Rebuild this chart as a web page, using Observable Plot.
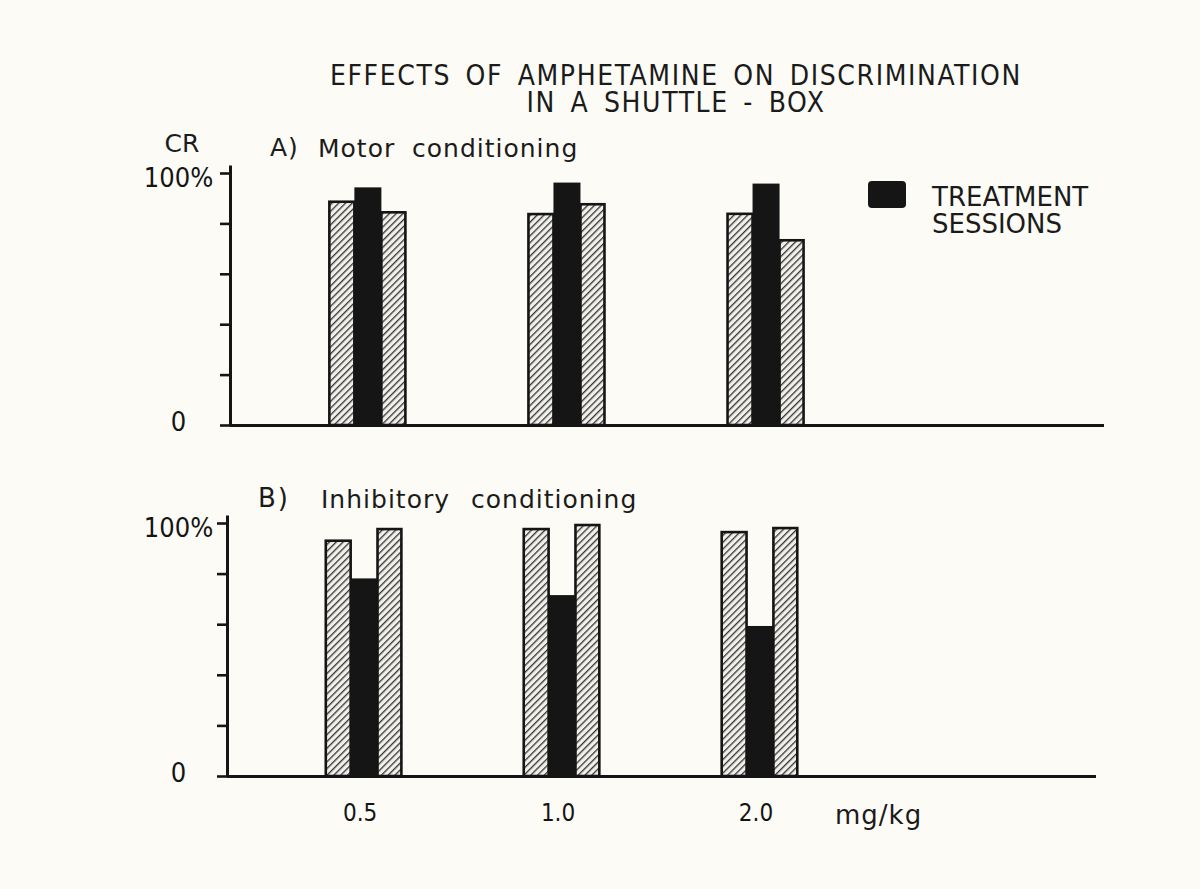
<!DOCTYPE html>
<html>
<head>
<meta charset="utf-8">
<script src="https://cdn.jsdelivr.net/npm/d3@7"></script>
<script src="https://cdn.jsdelivr.net/npm/@observablehq/plot@0.6"></script>
<style>
  html, body { margin: 0; padding: 0; background: #fcfbf6; }
  #page { position: relative; width: 1200px; height: 889px; overflow: hidden;
          font-family: "DejaVu Sans", sans-serif; color: #1b1b1b; }
  .t { position: absolute; white-space: pre; line-height: 1; transform: translateY(-50%); }
  .cond { font-family: "DejaVu Sans Condensed", "DejaVu Sans", sans-serif; font-stretch: condensed; }
  #page svg { position: absolute; left: 0; }
</style>
</head>
<body>
<div id="page"></div>
<script>
// ---- data ----
const doses = ["0.5", "1.0", "2.0"];
const motorPre       = [88.6, 83.7, 83.8];
const motorTreatment = [94.3, 96.2, 95.8];
const motorPost      = [84.4, 87.6, 73.3];
const inhibPre       = [93.0, 97.6, 96.4];
const inhibTreatment = [78.1, 71.5, 59.3];
const inhibPost      = [97.6, 99.2, 98.0];
const yTicks = [0, 20, 40, 60, 80, 100];
const yTickLabels = {0: "0", 100: "100%"};
const titleLines = ["EFFECTS OF AMPHETAMINE ON DISCRIMINATION", "IN A SHUTTLE - BOX"];
const legendLines = ["TREATMENT", "SESSIONS"];

const page = document.getElementById("page");
const ink = "#151515";
const condFont = '"DejaVu Sans Condensed", "DejaVu Sans", sans-serif';
const xDomain = [-0.69, 3.70];

function addText(txt, left, cy, size, cls = "", extra = "") {
  const d = document.createElement("div");
  d.className = "t " + cls;
  d.textContent = txt;
  d.style.cssText += `left:${left}px;top:${cy}px;font-size:${size}px;${extra}`;
  page.appendChild(d);
  return d;
}

function makePanel(cfg) {
  const rows = doses.map((dose, i) => ({dose, i, pre: cfg.pre[i], trt: cfg.trt[i], post: cfg.post[i]}));
  const u = px => px / 199;
  const hatchId = "hatch-" + cfg.id;
  const marks = [
    Plot.rect(rows, {x1: d => d.i + u(-38), x2: d => d.i + u(-13), y1: 0, y2: "pre",
      fill: `url(#${hatchId})`, stroke: ink, strokeWidth: 2.6}),
    Plot.rect(rows, {x1: d => d.i + u(14), x2: d => d.i + u(38), y1: 0, y2: "post",
      fill: `url(#${hatchId})`, stroke: ink, strokeWidth: 2.6}),
    Plot.rect(rows, {x1: d => d.i + u(-13), x2: d => d.i + u(14), y1: 0, y2: "trt", fill: ink}),
    Plot.ruleY([0], {stroke: ink, strokeWidth: 3}),
    Plot.ruleX([xDomain[0]], {y1: 0, y2: 103, stroke: ink, strokeWidth: 3}),
    Plot.axisY({ticks: yTicks, tickSize: 10, tickFormat: () => "", strokeWidth: 2.6, label: null}),
    Plot.axisY({ticks: [100], tickSize: 0, tickPadding: cfg.ml - 178, textAnchor: "middle",
      tickFormat: v => yTickLabels[v], dy: 5, fontSize: 27, fontFamily: condFont, label: null}),
    Plot.axisY({ticks: [0], tickSize: 0, tickPadding: cfg.ml - 178, textAnchor: "middle",
      tickFormat: v => yTickLabels[v], dy: -3, fontSize: 27, fontFamily: condFont, label: null})
  ];
  if (cfg.showX) {
    marks.push(Plot.axisX({ticks: [0, 1, 2], tickFormat: i => doses[i], tickSize: 0, tickPadding: 27,
      dx: -4, fontSize: 24, fontFamily: condFont, label: null}));
  }
  const svg = Plot.plot({
    width: 1200, height: cfg.height,
    marginLeft: cfg.ml, marginRight: cfg.mr, marginTop: 53, marginBottom: cfg.mb,
    x: {domain: xDomain, axis: null},
    y: {domain: [0, 100]},
    style: {background: "transparent", color: ink, fontFamily: '"DejaVu Sans", sans-serif', overflow: "visible"},
    marks
  });
  const defs = d3.select(svg).insert("defs", ":first-child");
  const pat = defs.append("pattern").attr("id", hatchId).attr("patternUnits", "userSpaceOnUse")
    .attr("width", 4.8).attr("height", 4.8).attr("patternTransform", "rotate(45)");
  pat.append("rect").attr("width", 4.8).attr("height", 4.8).attr("fill", "#f1f0eb");
  pat.append("line").attr("x1", 0.7).attr("y1", 0).attr("x2", 0.7).attr("y2", 4.8)
    .attr("stroke", "#222").attr("stroke-width", 1.2);
  svg.style.top = cfg.top + "px";
  page.appendChild(svg);
}

makePanel({id: "A", pre: motorPre, trt: motorTreatment, post: motorPost,
  top: 120, height: 330, ml: 230, mr: 96, mb: 25, showX: false});
makePanel({id: "B", pre: inhibPre, trt: inhibTreatment, post: inhibPost,
  top: 470, height: 370, ml: 227, mr: 104, mb: 64, showX: true});

// title (two lines in one block)
const title = document.createElement("div");
title.className = "cond";
title.textContent = titleLines.join("\n");
title.style.cssText = "position:absolute;left:676px;top:62px;transform:translateX(-50%);" +
  "white-space:pre;text-align:center;font-size:28px;line-height:27px;letter-spacing:1.6px;word-spacing:5px;";
page.appendChild(title);

// panel labels
addText("CR", 182, 143, 25).style.transform = "translate(-50%,-50%)";
addText("A)", 270, 147, 25, "", "letter-spacing:1px;");
addText("Motor", 318, 148, 25, "", "letter-spacing:1px;");
addText("conditioning", 412, 148, 25, "", "letter-spacing:1px;");
addText("B)", 258, 498, 26, "", "letter-spacing:2px;");
addText("Inhibitory", 321, 499, 25, "", "letter-spacing:1px;");
addText("conditioning", 471, 499, 25, "", "letter-spacing:1px;");

// unit label
addText("mg/kg", 835, 815, 26, "", "letter-spacing:1px;");

// legend
const sw = document.createElement("div");
sw.style.cssText = `position:absolute;left:868px;top:181px;width:38px;height:27px;background:${ink};border-radius:4px;`;
page.appendChild(sw);
const leg = document.createElement("div");
leg.textContent = legendLines.join("\n");
leg.style.cssText = "position:absolute;left:932px;top:184px;white-space:pre;font-size:26px;line-height:27px;";
page.appendChild(leg);
</script>
</body>
</html>
